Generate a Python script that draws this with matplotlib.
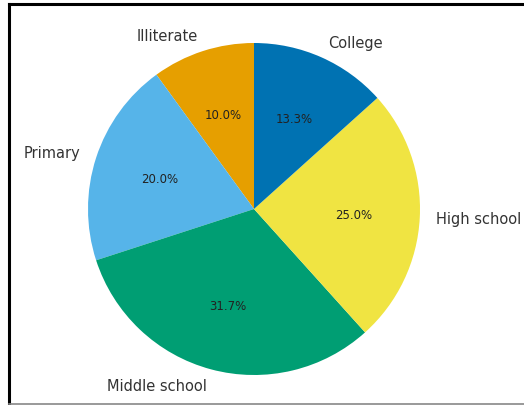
import matplotlib
matplotlib.use("Agg")
import matplotlib.pyplot as plt
from matplotlib.lines import Line2D

# escolaridade (contagens), ordem anti-horária a partir do topo
categorias = ["Illiterate", "Primary", "Middle school", "High school", "College"]
contagens = [6, 12, 19, 15, 8]
cores = ["#E69F00", "#56B4E9", "#009E73", "#F0E442", "#0072B2"]

W, H = 524, 406
fig = plt.figure(figsize=(W / 100, H / 100), dpi=100)

# centro do pie ~ (255, 210) px, raio ~166 px
cx, cy, r = 254, 210, 166
meia = 1.25 * r
ax = fig.add_axes([(cx - meia) / W, (H - cy - meia) / H, 2 * meia / W, 2 * meia / H])

wedges, textos, pcts = ax.pie(contagens, labels=categorias, colors=cores,
                              autopct="%1.1f%%", startangle=90,
                              textprops={"fontsize": 10.5, "color": "#333333"})
for t in pcts:
    t.set_fontsize(8.5)
    t.set_color("#222222")
ax.set_xlim(-1.25, 1.25)
ax.set_ylim(-1.25, 1.25)
ax.set_aspect("equal")
ax.axis("off")

# moldura do print
fig.add_artist(Line2D([9 / W, 1], [1 - 5 / H, 1 - 5 / H], color="black", lw=2.2))
fig.add_artist(Line2D([9 / W, 9 / W], [1 - 5 / H, 2 / H], color="black", lw=2.2))
fig.add_artist(Line2D([9 / W, 1], [1.5 / H, 1.5 / H], color="#888888", lw=1.2))

fig.savefig("out.png", dpi=100)
